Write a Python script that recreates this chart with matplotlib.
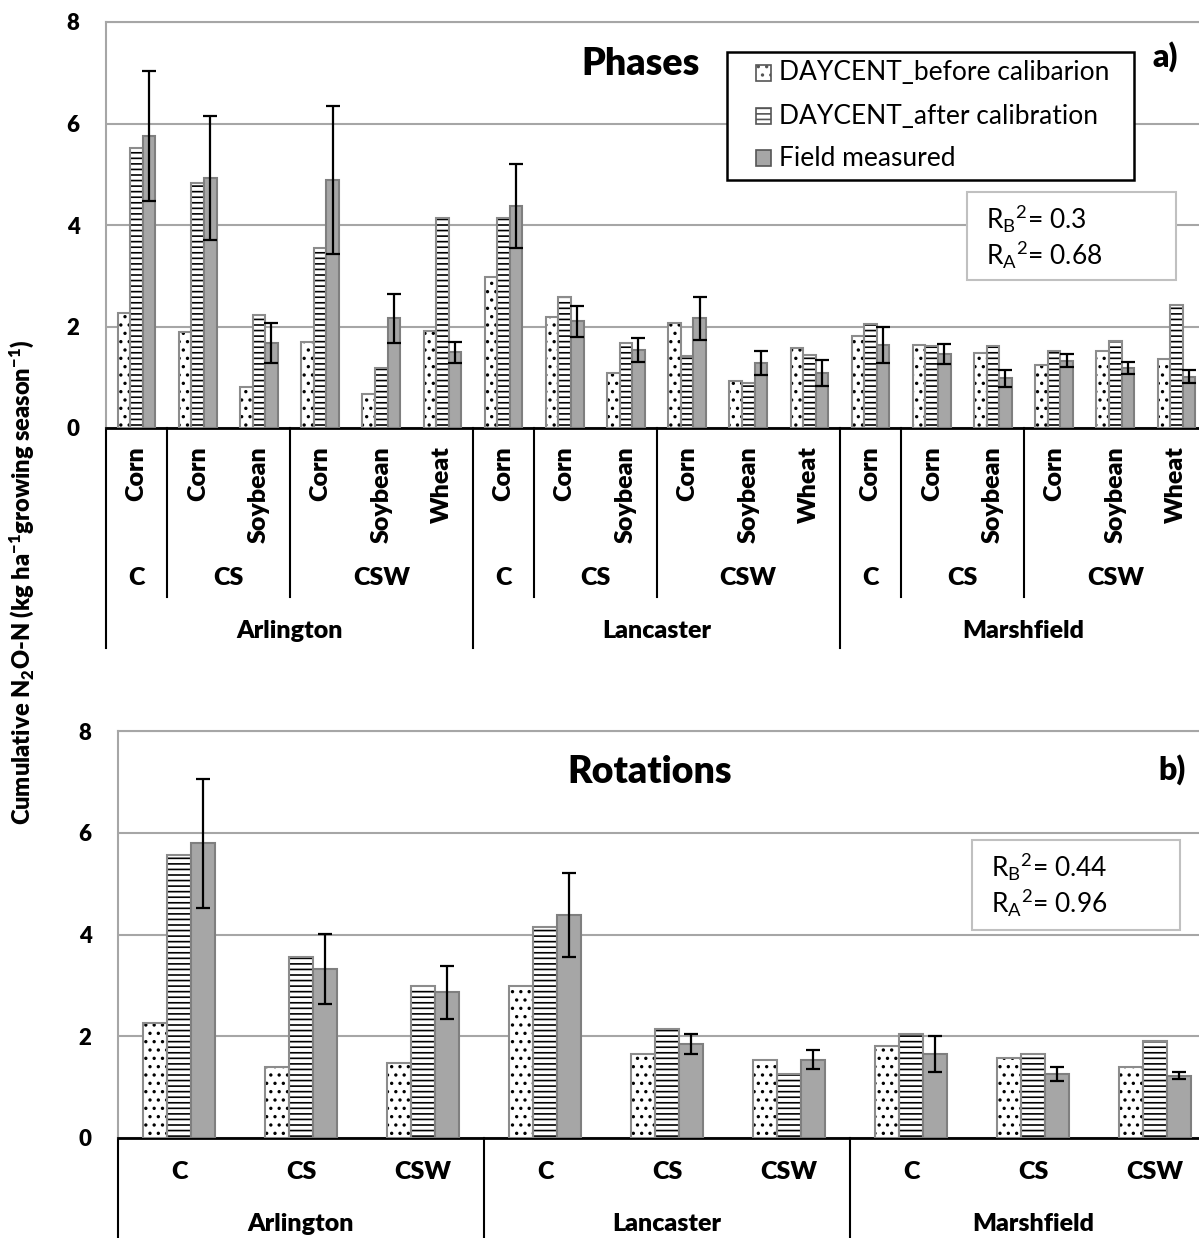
import matplotlib
matplotlib.use('Agg')
import matplotlib.pyplot as plt
import matplotlib.transforms as mtransforms
from matplotlib.patches import Rectangle
from matplotlib.lines import Line2D
import numpy as np

plt.rcParams['font.family'] = ['Lato', 'DejaVu Sans']
plt.rcParams['mathtext.default'] = 'regular'
plt.rcParams['hatch.linewidth'] = 1.2

# ---- data ----
sites = ['Arlington', 'Lancaster', 'Marshfield']
rotations = ['C', 'CS', 'CSW']
rotation_phases = [['Corn'], ['Corn', 'Soybean'], ['Corn', 'Soybean', 'Wheat']]
series_names = ['DAYCENT_before calibarion', 'DAYCENT_after calibration', 'Field measured']

# panel a: phases (site -> rotation -> crop)
phase_before = [2.26, 1.90, 0.80, 1.70, 0.67, 1.92,
                2.98, 2.19, 1.08, 2.06, 0.92, 1.57,
                1.81, 1.64, 1.48, 1.25, 1.51, 1.35]
phase_after = [5.52, 4.83, 2.22, 3.54, 1.19, 4.13,
               4.14, 2.59, 1.67, 1.41, 0.88, 1.44,
               2.04, 1.61, 1.61, 1.51, 1.71, 2.43]
phase_field = [5.75, 4.93, 1.67, 4.89, 2.16, 1.49,
               4.38, 2.10, 1.54, 2.16, 1.28, 1.08,
               1.64, 1.46, 0.98, 1.33, 1.18, 1.01]
phase_err = [1.28, 1.22, 0.39, 1.46, 0.49, 0.20,
             0.83, 0.30, 0.23, 0.43, 0.23, 0.26,
             0.36, 0.20, 0.17, 0.13, 0.12, 0.13]

# panel b: rotations (site -> rotation)
rot_before = [2.27, 1.39, 1.48, 2.99, 1.65, 1.54, 1.81, 1.58, 1.39]
rot_after = [5.56, 3.55, 2.99, 4.14, 2.14, 1.26, 2.04, 1.65, 1.91]
rot_field = [5.79, 3.32, 2.86, 4.38, 1.85, 1.54, 1.65, 1.26, 1.22]
rot_err = [1.26, 0.69, 0.53, 0.83, 0.19, 0.18, 0.36, 0.13, 0.07]

r2_a = ['0.3', '0.68']
r2_b = ['0.44', '0.96']

W, H = 1199, 1238
EDGE = '#8c8c8c'
GRAY = '#a6a6a6'
GRID = '#a6a6a6'
BOLD = 'heavy'
LAB_FS = 18

fig = plt.figure(figsize=(W / 100, H / 100), dpi=100)

# axes placed in pixel terms of the reference
ax_a = fig.add_axes([106 / W, 1 - 428 / H, (1207 - 106) / W, 406 / H])
ax_b = fig.add_axes([118 / W, 1 - 1138 / H, (1216 - 118) / W, 407 / H])


def draw_bars(ax, before, after, field, err, width):
    x = np.arange(len(before)) + 0.5
    ax.bar(x - width, before, width, color='white', edgecolor='black', hatch='..', lw=0, zorder=2)
    ax.bar(x - width, before, width, fill=False, edgecolor=EDGE, lw=1.5, zorder=3)
    ax.bar(x, after, width, color='white', edgecolor='black', hatch='---', lw=0, zorder=2)
    ax.bar(x, after, width, fill=False, edgecolor=EDGE, lw=1.5, zorder=3)
    ax.bar(x + width, field, width, color=GRAY, edgecolor='#7f7f7f', lw=1.5, zorder=3)
    ax.errorbar(x + width, field, yerr=err, fmt='none', ecolor='black', elinewidth=1.6,
                capsize=5, capthick=1.6, zorder=4)
    ax.set_xlim(0, len(before))
    ax.set_ylim(0, 8)
    ax.set_yticks([0, 2, 4, 6, 8])
    ax.set_xticks([])
    ax.yaxis.grid(True, color=GRID, lw=1.5)
    ax.set_axisbelow(True)
    ax.tick_params(axis='y', length=0, pad=19, labelsize=16)
    for lab in ax.get_yticklabels():
        lab.set_fontweight(BOLD)
    ax.spines['left'].set_color(GRID)
    ax.spines['left'].set_linewidth(1.5)
    ax.spines['top'].set_color(GRID)
    ax.spines['top'].set_linewidth(1.5)
    ax.spines['right'].set_visible(False)
    ax.spines['bottom'].set_color('black')
    ax.spines['bottom'].set_linewidth(2)


draw_bars(ax_a, phase_before, phase_after, phase_field, phase_err, 0.205)
draw_bars(ax_b, rot_before, rot_after, rot_field, rot_err, 0.195)


def vline(ax, trans, x, y0, y1):
    ax.add_artist(Line2D([x, x], [y0, y1], transform=trans, color='black', lw=1.5, clip_on=False))


# ---- panel a category axis (3 levels) ----
a_top, a_bot = 22, 428
fa = lambda ypx: (a_bot - ypx) / (a_bot - a_top)
tr_a = mtransforms.blended_transform_factory(ax_a.transData, ax_a.transAxes)
pos = 0
for s, site in enumerate(sites):
    site_start = pos
    vline(ax_a, tr_a, pos, fa(428), fa(648))
    for r, rot in enumerate(rotations):
        crops = rotation_phases[r]
        if r > 0:
            vline(ax_a, tr_a, pos, fa(428), fa(597))
        for k, crop in enumerate(crops):
            ax_a.text(pos + k + 0.5, fa(446), crop, rotation=90, ha='center', va='top',
                      transform=tr_a, fontsize=LAB_FS, fontweight=BOLD)
        ax_a.text(pos + len(crops) / 2, fa(578), rot, ha='center', va='center',
                  transform=tr_a, fontsize=LAB_FS, fontweight=BOLD)
        pos += len(crops)
    ax_a.text((site_start + pos) / 2, fa(631), site, ha='center', va='center',
              transform=tr_a, fontsize=LAB_FS, fontweight=BOLD)
vline(ax_a, tr_a, pos, fa(428), fa(648))

# ---- panel b category axis (2 levels) ----
b_top, b_bot = 731, 1138
fb = lambda ypx: (b_bot - ypx) / (b_bot - b_top)
tr_b = mtransforms.blended_transform_factory(ax_b.transData, ax_b.transAxes)
pos = 0
for s, site in enumerate(sites):
    vline(ax_b, tr_b, pos, fb(1138), fb(1240))
    for r, rot in enumerate(rotations):
        ax_b.text(pos + r + 0.5, fb(1172), rot, ha='center', va='center',
                  transform=tr_b, fontsize=LAB_FS, fontweight=BOLD)
    ax_b.text(pos + 1.5, fb(1224), site, ha='center', va='center',
              transform=tr_b, fontsize=LAB_FS, fontweight=BOLD)
    pos += len(rotations)
vline(ax_b, tr_b, pos, fb(1138), fb(1240))

# ---- titles / panel tags ----
fig.text(641 / W, 1 - 64 / H, 'Phases', ha='center', va='center', fontsize=27, fontweight=BOLD)
fig.text(1165 / W, 1 - 57 / H, 'a)', ha='center', va='center', fontsize=23, fontweight=BOLD)
fig.text(650 / W, 1 - 772 / H, 'Rotations', ha='center', va='center', fontsize=27, fontweight=BOLD)
fig.text(1172 / W, 1 - 770 / H, 'b)', ha='center', va='center', fontsize=23, fontweight=BOLD)

fig.text(22 / W, 1 - 582 / H, 'Cumulative N$_2$O-N (kg ha$^{-1}$growing season$^{-1}$)',
         rotation=90, ha='center', va='center', fontsize=17, fontweight=BOLD)

# ---- legend (drawn as a framed key) ----
fig.add_artist(Rectangle((727 / W, 1 - 180 / H), 407 / W, 128 / H, transform=fig.transFigure,
                         facecolor='white', edgecolor='black', lw=1.8, zorder=5))
key_styles = [dict(facecolor='white', hatch='..'),
              dict(facecolor='white', hatch='---'),
              dict(facecolor=GRAY)]
for i, (name, st) in enumerate(zip(series_names, key_styles)):
    yc = [73, 116, 158][i]
    fig.add_artist(Rectangle((756 / W, 1 - (yc + 8) / H), 15 / W, 16 / H,
                             transform=fig.transFigure, edgecolor='#555555', lw=1.2,
                             zorder=6, **st))
    fig.text(779 / W, 1 - yc / H, name, va='center', ha='left', fontsize=19, zorder=6)


# ---- R^2 boxes ----
def r2_box(x0, y0, x1, y1, vals):
    fig.add_artist(Rectangle((x0 / W, 1 - y1 / H), (x1 - x0) / W, (y1 - y0) / H,
                             transform=fig.transFigure, facecolor='white',
                             edgecolor='#c0c0c0', lw=1.5, zorder=5))
    fig.text((x0 + 19) / W, 1 - (y0 + 27) / H, 'R$_B$$^2$= ' + vals[0], va='center',
             fontsize=19, zorder=6)
    fig.text((x0 + 19) / W, 1 - (y0 + 63) / H, 'R$_A$$^2$= ' + vals[1], va='center',
             fontsize=19, zorder=6)


r2_box(967, 192, 1176, 280, r2_a)
r2_box(972, 840, 1180, 930, r2_b)

fig.savefig('out.png', dpi=100)
